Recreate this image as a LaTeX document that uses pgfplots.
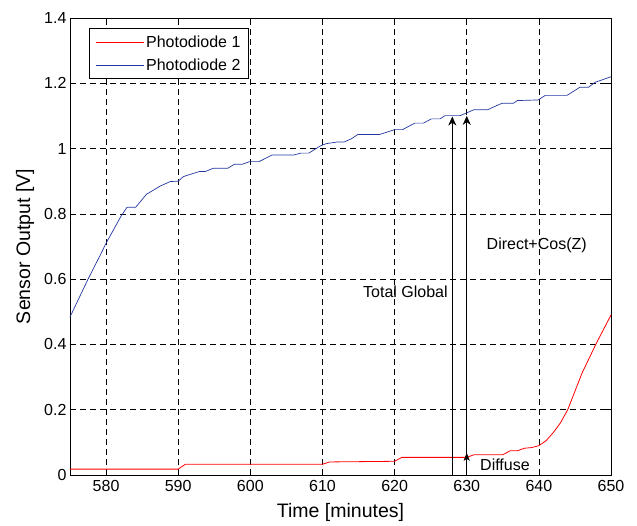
\documentclass[border=0pt]{standalone}
\usepackage{fontspec}
\setmainfont{Liberation Sans}
\usepackage{pgfplots}
\pgfplotsset{compat=1.18}
\usetikzlibrary{arrows.meta}
\definecolor{pdred}{RGB}{255,0,0}
\definecolor{pdblue}{RGB}{35,55,160}
\newcommand{\fs}{\fontsize{16}{19}\selectfont}
\newcommand{\fl}{\fontsize{19.5}{22}\selectfont}
\begin{document}
\begin{tikzpicture}
\begin{axis}[
  name=ax,
  scale only axis,
  width=541pt, height=457pt,
  xmin=575, xmax=650, ymin=0, ymax=1.4,
  xtick={580,590,...,650},
  ytick={0,0.2,...,1.4},
  yticklabels={0,0.2,0.4,0.6,0.8,1,1.2,1.4},
  /pgf/number format/assume math mode=true,
  tick label style={font=\fs},
  xticklabel style={yshift=-2pt},
  tick align=inside,
  major tick length=5pt,
  tick style={black, line width=0.5pt},
  axis line style={black, line width=0.8pt},
  grid=major,
  major grid style={black, line width=0.5pt, dash pattern=on 6pt off 4pt},
  xlabel={Time [minutes]},
  ylabel={Sensor Output [V]},
  xlabel style={font=\fl, at={(axis description cs:0.5,-0.083)}, anchor=center},
  ylabel style={font=\fl, at={(axis description cs:-0.083,0.5)}, anchor=center},
  legend style={draw=black, line width=0.8pt, fill=white, font=\fs,
    at={(axis description cs:0.035,0.978)}, anchor=north west,
    inner xsep=6pt, inner ysep=5pt, row sep=6pt, legend cell align=left},
  legend image code/.code={\draw[#1] (0pt,0pt) -- (48pt,0pt);},
  clip=false,
]
\addplot[pdred, line width=0.8pt] coordinates {
(575,0.018) (590,0.018) (591,0.033) (610,0.033) (611,0.040) (620,0.042)
(621,0.054) (630,0.054) (631,0.062) (635,0.062) (636,0.074) (637,0.074)
(638,0.082) (639,0.084) (640,0.090) (641,0.105) (642,0.130) (643,0.160)
(644,0.200) (646,0.313) (648,0.405) (650,0.490)
};
\addlegendentry{Photodiode 1}
\addplot[pdblue, line width=0.7pt] coordinates {
(575,0.484) (577.5,0.600) (579.2,0.674) (580,0.710) (581,0.750) (582,0.790)
(582.9,0.820) (584.1,0.820) (585.6,0.860) (587.5,0.885) (588.9,0.899) (590,0.900)
(590.7,0.914) (592.1,0.924) (593,0.930) (593.8,0.930) (594.9,0.940) (596.9,0.940)
(597.8,0.952) (598.9,0.952) (599.9,0.960) (601.2,0.960) (603,0.980) (606,0.980)
(607,0.986) (608.1,0.986) (609.7,1.008) (610.5,1.015) (612,1.020) (613,1.020)
(614,1.030) (614.9,1.043) (617.9,1.043) (620,1.058) (621.1,1.058) (622.8,1.078)
(624,1.078) (625.1,1.091) (626.3,1.091) (627,1.101) (629.1,1.101) (631,1.119)
(632.9,1.119) (634.9,1.139) (636.5,1.139) (637,1.147) (639.9,1.149) (640.9,1.163)
(643.9,1.163) (645.7,1.188) (646.9,1.188) (647.8,1.203) (650,1.220)
};
\addlegendentry{Photodiode 2}
\draw[black, line width=0.5pt, -{Stealth[length=9pt,width=8pt,inset=3pt]}] (axis cs:628,0) -- (axis cs:628,1.098);
\draw[black, line width=0.5pt, -{Stealth[length=9pt,width=8pt,inset=3pt]}] (axis cs:630,0) -- (axis cs:630,1.100);
\draw[black, line width=0.5pt, -{Stealth[length=8pt,width=6pt,inset=2pt]}] (axis cs:630,0) -- (axis cs:630,0.068);
\node[font=\fs, anchor=center] at (axis cs:621.5,0.56) {Total Global};
\node[font=\fs, anchor=center] at (axis cs:639.7,0.703) {Direct+Cos(Z)};
\node[font=\fs, anchor=center] at (axis cs:635.3,0.03) {Diffuse};
\end{axis}
\path (ax.south west) ++(-70pt,-50pt) coordinate (bl);
\path (ax.north east) ++(26pt,18pt) coordinate (tr);
\path (bl) rectangle (tr);
\end{tikzpicture}
\end{document}
